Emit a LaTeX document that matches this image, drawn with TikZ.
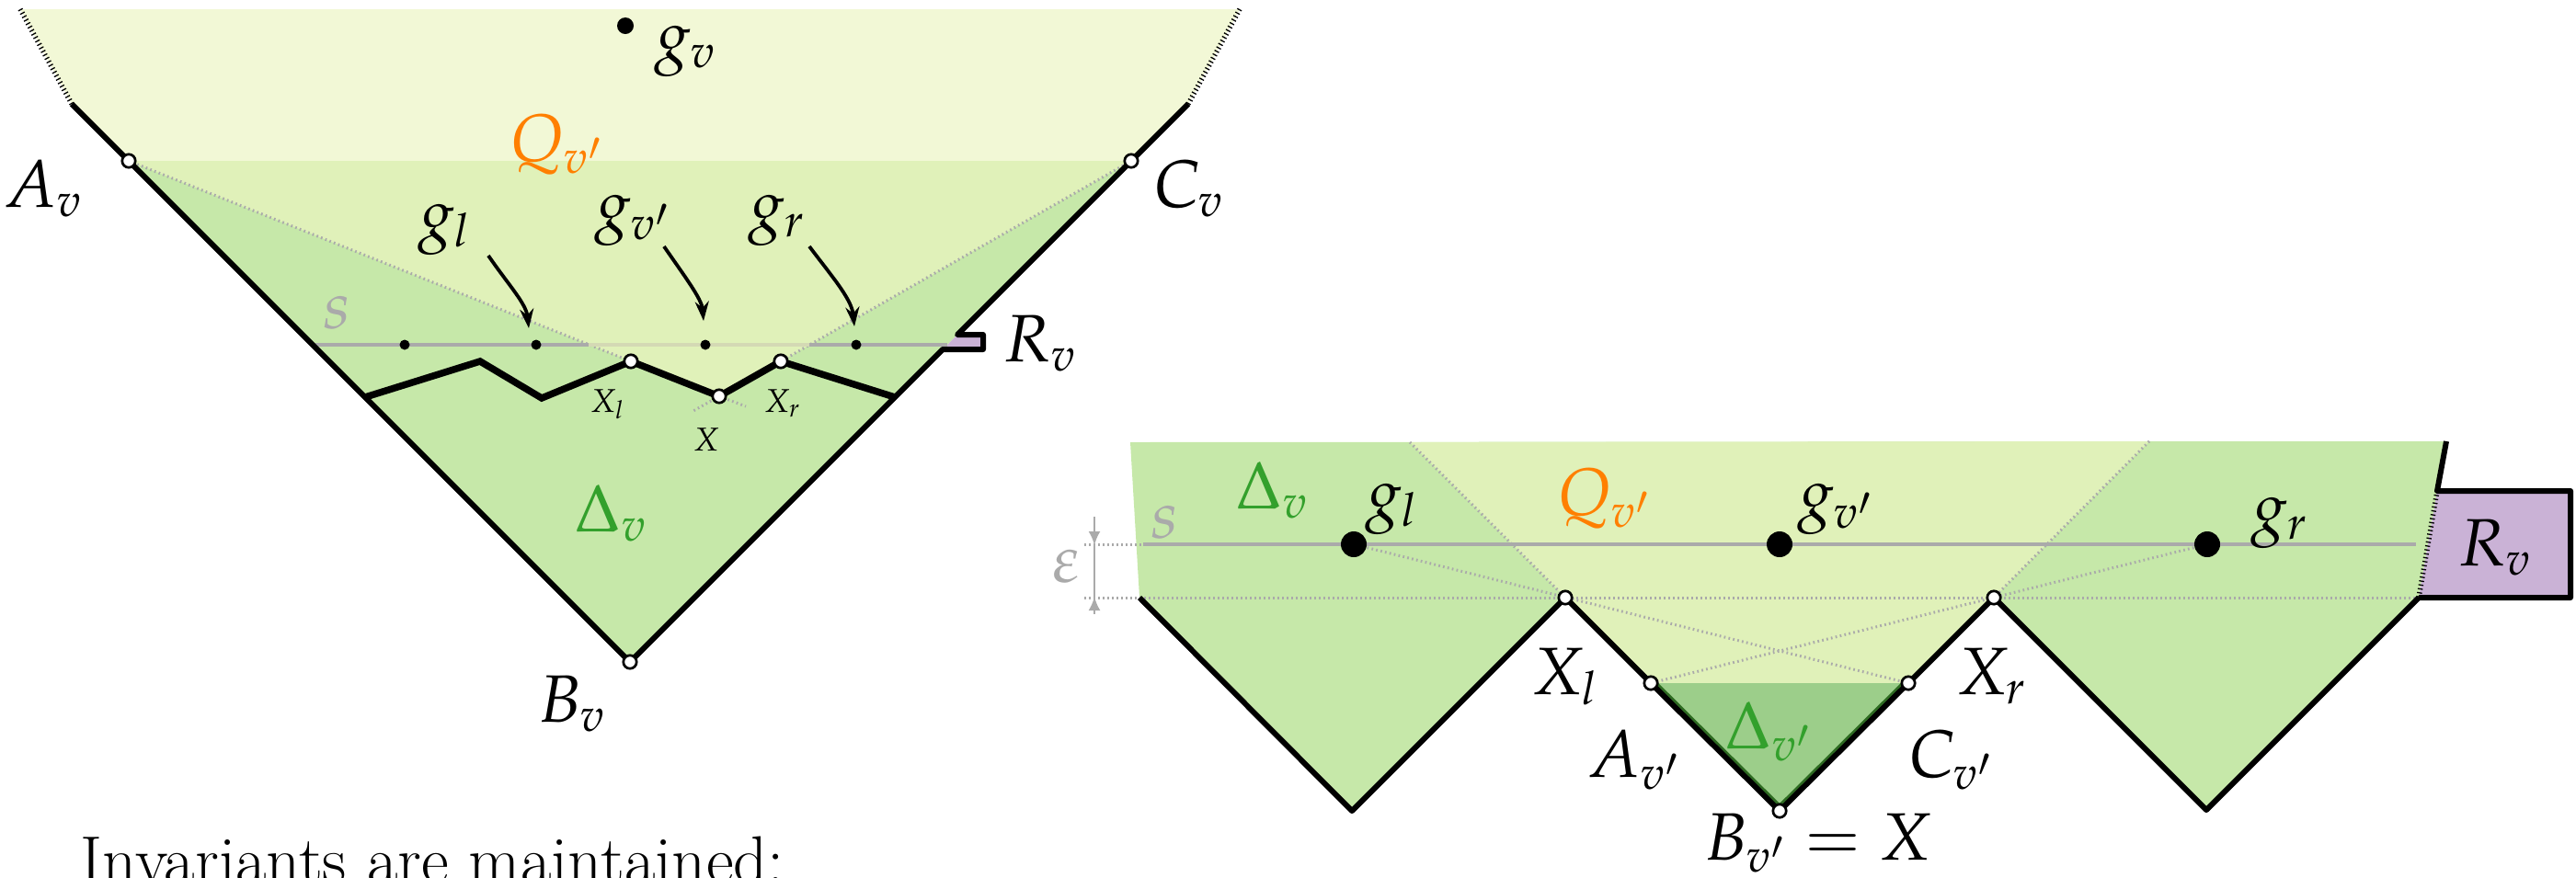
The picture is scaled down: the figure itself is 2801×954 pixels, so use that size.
\documentclass[tikz,border=0pt]{standalone}
\usepackage{mathpazo}
\usetikzlibrary{arrows.meta}
\definecolor{cLight}{HTML}{F2F8D6}
\definecolor{cMid}{HTML}{E0F1B9}
\definecolor{cGreen}{HTML}{C6E8A9}
\definecolor{cDark}{HTML}{9CCE8A}
\definecolor{cDarkEdge}{HTML}{2E6B22}
\definecolor{cPurple}{HTML}{CAB2D6}
\definecolor{cOrange}{HTML}{FF7F00}
\definecolor{cGText}{HTML}{33A02C}
\definecolor{cGray}{HTML}{AAAAAA}
\definecolor{cSLight}{HTML}{D4D9B4}
\begin{document}
\begin{tikzpicture}[x=0.1mm,y=-0.1mm,
  lbl/.style={anchor=base west,inner sep=0pt,outer sep=0pt,font=\fontsize{20.74}{25}\selectfont},
  smalllbl/.style={anchor=base west,inner sep=0pt,outer sep=0pt,font=\fontsize{10.2}{12}\selectfont},
  edgeline/.style={draw=black,line width=0.6mm,line join=round},
  zzline/.style={draw=black,line width=0.75mm,line join=miter},
  gdot/.style={draw=cGray,line width=0.3mm,dash pattern=on 0.17mm off 0.33mm},
  bdot/.style={draw=black,line width=0.55mm,dash pattern=on 0.13mm off 0.3mm},
  sline/.style={line width=0.33mm},
  wpt/.style={fill=white,draw=black,line width=0.27mm},
  arr/.style={draw=black,line width=0.38mm,-{Stealth[length=2.1mm,width=1.5mm]}},
  garr/.style={draw=cGray,line width=0.25mm,-{Latex[length=1.5mm,width=1.3mm]}},
]
\useasboundingbox (0,0) rectangle (2801,954);

% ---------------- left figure coordinates
\coordinate (LT1) at (22,10);
\coordinate (LT2) at (78,113);
\coordinate (Av) at (140,175);
\coordinate (Bv) at (685,720);
\coordinate (Cv) at (1230,175);
\coordinate (RT2) at (1292,113);
\coordinate (RT1) at (1348,10);
\coordinate (N1) at (1025,380);
\coordinate (N2) at (1069,380);
\coordinate (N3) at (1069,364);
\coordinate (N4) at (1041,364);
\coordinate (Z0) at (397,432);
\coordinate (Z1) at (522,393);
\coordinate (Z2) at (589,433);
\coordinate (Xl) at (686,393);
\coordinate (X) at (782,431);
\coordinate (Xr) at (849,393);
\coordinate (Z6) at (973,432);
\coordinate (S0) at (340,375);
\coordinate (S1) at (640,375);
\coordinate (S2) at (880,375);
\coordinate (S3) at (1030,375);
\coordinate (d1) at (440,375);
\coordinate (d2) at (583,375);
\coordinate (d3) at (767,375);
\coordinate (d4) at (931,375);
\coordinate (gv) at (680,28);

% fills
\fill[cLight] (LT1) -- (RT1) -- (RT2) -- (Cv) -- (Av) -- (LT2) -- cycle;
\fill[cGreen] (Av) -- (Cv) -- (Bv) -- cycle;
\fill[cMid] (Av) -- (Cv) -- (Xr) -- (X) -- (Xl) -- cycle;
\fill[cPurple] (N1) -- (N2) -- (N3) -- (N4) -- cycle;

% gray dotted
\draw[gdot] (Av) -- (Xl);
\draw[gdot] (Cv) -- (Xr);
\coordinate (st1) at (752,448);
\coordinate (st2) at (811,442);
\draw[gdot] (X) -- (st1);
\draw[gdot] (X) -- (st2);

% s line
\draw[sline,draw=cGray] (S0) -- (S1);
\draw[sline,draw=cSLight] (S1) -- (S2);
\draw[sline,draw=cGray] (S2) -- (S3);

% black outline
\draw[bdot] (LT1) -- (LT2);
\draw[bdot] (RT1) -- (RT2);
\draw[edgeline] (LT2) -- (Av) -- (Bv) -- (N1) -- (N2) -- (N3) -- (N4) -- (Cv) -- (RT2);
\draw[zzline] (Z0) -- (Z1) -- (Z2) -- (Xl) -- (X) -- (Xr) -- (Z6);

% dots
\foreach \p in {d1,d2,d3,d4} \fill (\p) circle[radius=0.55mm];
\fill (gv) circle[radius=0.9mm];
\foreach \p in {Av,Bv,Cv,Xl,X,Xr} \draw[wpt] (\p) circle[radius=0.72mm];

% arrows
\coordinate (a1s) at (531,278); \coordinate (a1e) at (575,357);
\coordinate (a2s) at (722,268); \coordinate (a2e) at (765,349);
\coordinate (a3s) at (880,268); \coordinate (a3e) at (929,355);
\draw[arr] (a1s) .. controls (553,310) and (572,330) .. (a1e);
\draw[arr] (a2s) .. controls (744,300) and (763,325) .. (a2e);
\draw[arr] (a3s) .. controls (904,300) and (926,325) .. (a3e);

% labels
\node[lbl] (lgv) at (712,63) {$g_v$};
\node[lbl,text=cOrange] (lQ) at (554,175) {$Q_{v'}$};
\node[lbl] (lAv) at (4,225) {$A_v$};
\node[lbl] (lCv) at (1255,225) {$C_v$};
\node[lbl] (lgl) at (455,257) {$g_l$};
\node[lbl] (lgvp) at (647,247) {$g_{v'}$};
\node[lbl] (lgr) at (814,247) {$g_r$};
\node[lbl,text=cGray] (ls) at (352,357) {$s$};
\node[lbl] (lRv) at (1091,393) {$R_v$};
\node[smalllbl] (lXl) at (642,448) {$X_l$};
\node[smalllbl] (lX) at (754,490) {$X$};
\node[smalllbl] (lXr) at (831,448) {$X_r$};
\node[lbl,text=cGText] (lDv) at (625,578) {$\Delta_v$};
\node[lbl] (lBv) at (585,785) {$B_v$};
\node[lbl] (inv) at (88,960) {Invariants are maintained:};

% ---------------- right figure coordinates
\coordinate (P0) at (1229,481);
\coordinate (P1) at (2660,480);
\coordinate (P2) at (2650,534);
\coordinate (P3) at (2630,650);
\coordinate (Bx2) at (2795,534);
\coordinate (Bx3) at (2795,650);
\coordinate (L0) at (1239,650);
\coordinate (L1) at (1470,882);
\coordinate (rXl) at (1702,650);
\coordinate (rAvp) at (1795,743);
\coordinate (rBvp) at (1935,882);
\coordinate (rCvp) at (2075,743);
\coordinate (rXr) at (2168,650);
\coordinate (R1) at (2399,881);
\coordinate (QT1) at (1533,481);
\coordinate (QT2) at (2337,480);
\coordinate (rgl) at (1472,592);
\coordinate (rgvp) at (1935,592);
\coordinate (rgr) at (2400,592);
\coordinate (sL) at (1243,592);
\coordinate (sR) at (2627,592);
\coordinate (eL1) at (1179,592);
\coordinate (eL2) at (1179,650);
\coordinate (eR1) at (1241,592);

\fill[cGreen] (P0) -- (P1) -- (P2) -- (P3) -- (R1) -- (rXr) -- (rCvp) -- (rBvp) -- (rAvp) -- (rXl) -- (L1) -- (L0) -- cycle;
\fill[cMid] (QT1) -- (QT2) -- (rXr) -- (rCvp) -- (rAvp) -- (rXl) -- cycle;
\fill[cDark] (rAvp) -- (rCvp) -- (rBvp) -- cycle;
\fill[cPurple] (P2) -- (Bx2) -- (Bx3) -- (P3) -- cycle;

\draw[gdot] (QT1) -- (rXl);
\draw[gdot] (QT2) -- (rXr);
\draw[gdot] (rgl) -- (rCvp);
\draw[gdot] (rgr) -- (rAvp);
\draw[gdot] (eL2) -- (P3);
\draw[gdot] (eL1) -- (eR1);
\draw[sline,draw=cGray] (sL) -- (sR);

% epsilon marker
\coordinate (ea1) at (1190,562); \coordinate (ea2) at (1190,593);
\coordinate (eb1) at (1190,668); \coordinate (eb2) at (1190,649);
\draw[garr] (ea1) -- (ea2);
\draw[garr] (eb1) -- (eb2);
\draw[draw=cGray,line width=0.2mm] (ea2) -- (eb2);

% outlines
\begin{scope}
\clip (rAvp) -- (rCvp) -- (rBvp) -- cycle;
\draw[line width=1.15mm,draw=cDarkEdge] (rAvp) -- (rBvp) -- (rCvp);
\end{scope}
\draw[edgeline] (P1) -- (P2) -- (Bx2) -- (Bx3) -- (P3);
\draw[bdot] (P2) -- (P3);
\draw[edgeline] (L0) -- (L1) -- (rXl) -- (rAvp) -- (rBvp) -- (rCvp) -- (rXr) -- (R1) -- (P3);

\foreach \p in {rgl,rgvp,rgr} \fill (\p) circle[radius=1.4mm];
\foreach \p in {rXl,rAvp,rBvp,rCvp,rXr} \draw[wpt] (\p) circle[radius=0.72mm];

\node[lbl,text=cGText] (rDvL) at (1344,553) {$\Delta_v$};
\node[lbl] (rglL) at (1485,561) {$g_l$};
\node[lbl,text=cOrange] (rQL) at (1693,560) {$Q_{v'}$};
\node[lbl] (rgvpL) at (1955,561) {$g_{v'}$};
\node[lbl] (rgrL) at (2448,576) {$g_r$};
\node[lbl] (rRvL) at (2673,615) {$R_v$};
\node[lbl,text=cGray] (rsL) at (1252,585) {$s$};
\node[lbl,text=cGray] (epsL) at (1145,633) {$\varepsilon$};
\node[lbl] (rXlL) at (1665,755) {$X_l$};
\node[lbl] (rXrL) at (2127,755) {$X_r$};
\node[lbl] (rAvpL) at (1726,845) {$A_{v'}$};
\node[lbl] (rCvpL) at (2076,845) {$C_{v'}$};
\node[lbl,text=cGText] (rDvpL) at (1876,814) {$\Delta_{v'}$};
\node[lbl] (rBvpL) at (1853,935) {$B_{v'} = X$};
\end{tikzpicture}
\end{document}
